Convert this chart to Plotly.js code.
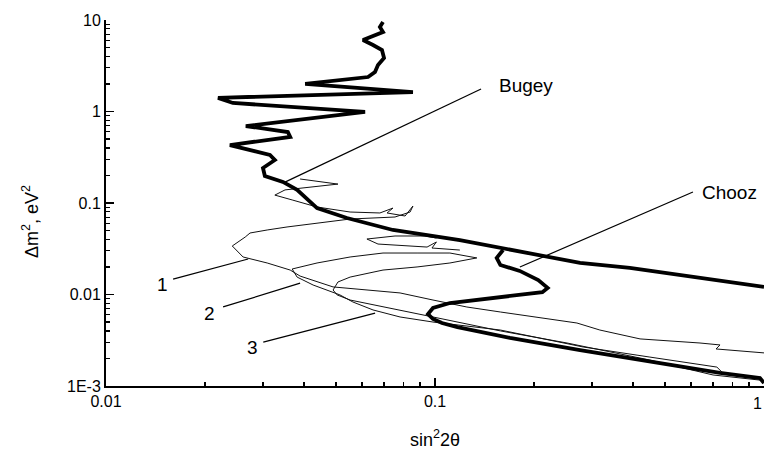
<!DOCTYPE html>
<html><head><meta charset="utf-8">
<script src="https://cdn.plot.ly/plotly-3.0.1.min.js"></script>
<style>html,body{margin:0;padding:0;background:#fff}#plot{width:765px;height:454px}</style>
</head><body><div id="plot"></div>
<script>
// Bugey limit (thick)
const bugeyX = [0.0695,0.068,0.0695,0.0604,0.0648,0.069,0.070,0.0671,0.0657,0.0626,0.0403,0.0857,0.0219,0.0243,0.0613,0.0266,0.0357,0.0363,0.0238,0.0261,0.0315,0.0326,0.030,0.0304,0.0345,0.0381,0.0423,0.0438,0.054,0.0745,0.119,0.158,0.276,0.391,0.556,0.788,1.0];
const bugeyY = [9.51,8.39,7.39,6.04,5.33,4.70,3.84,3.22,2.70,2.38,2.00,1.63,1.41,1.24,0.99,0.694,0.597,0.527,0.430,0.399,0.335,0.295,0.241,0.197,0.170,0.139,0.100,0.088,0.0686,0.0507,0.0394,0.0322,0.0221,0.0195,0.0163,0.0137,0.0121];
// Chooz limit (thick)
const choozX = [0.161,0.154,0.158,0.181,0.206,0.220,0.212,0.111,0.0986,0.0952,0.0986,0.105,0.117,0.169,0.276,0.391,0.556,0.735,0.972,1.0];
const choozY = [0.0306,0.0251,0.021,0.0181,0.0144,0.0118,0.0106,0.00807,0.00712,0.00612,0.0054,0.00488,0.00441,0.00335,0.00247,0.00202,0.00161,0.00139,0.00122,0.00108];
// thin contours 1, 2, 3
const c1X = [0.0389,0.0507,0.035,0.0326,0.0368,0.0438,0.0552,0.068,0.0745,0.0715,0.0811,0.0857,0.084,0.0756,0.0552,0.0438,0.0355,0.0309,0.0274,0.0265,0.0242,0.0261,0.0309,0.0363,0.0389,0.049,0.0783,0.0986,0.125,0.158,0.199,0.270,0.317,0.420,0.639,0.735,0.715,1.0];
const c1Y = [0.183,0.161,0.139,0.122,0.108,0.0904,0.0797,0.0778,0.088,0.0778,0.0721,0.0927,0.0797,0.0703,0.0668,0.0605,0.0547,0.0507,0.047,0.0425,0.0339,0.0257,0.0221,0.0185,0.0159,0.0121,0.0104,0.0087,0.0073,0.00644,0.00568,0.00488,0.00409,0.00327,0.00295,0.00281,0.00254,0.0023];
const c2X = [0.134,0.111,0.0882,0.0695,0.0552,0.0438,0.0368,0.0381,0.0426,0.0514,0.0563,0.0648,0.0783,0.0986,0.158,0.282,0.45,0.719,0.745];
const c2Y = [0.0251,0.0284,0.0284,0.0284,0.0257,0.0221,0.019,0.0155,0.0127,0.0099,0.00828,0.00678,0.00568,0.005,0.00409,0.00267,0.00207,0.00161,0.00142];
const c3X = [0.134,0.111,0.0882,0.0695,0.0552,0.0507,0.049,0.0504,0.0552,0.0695,0.0986,0.158,0.252,0.45,0.70,0.972];
const c3Y = [0.0251,0.0221,0.020,0.0185,0.0155,0.0137,0.0112,0.0099,0.0087,0.0073,0.00568,0.0040,0.00295,0.00192,0.00132,0.00116];
// small zig-zag loop of contour 2 near 0.08
const c4X = [0.101,0.0932,0.0756,0.0621,0.0671,0.0783,0.0946,0.101,0.0979,0.119];
const c4Y = [0.0414,0.0436,0.0436,0.0404,0.0356,0.0347,0.033,0.0375,0.0322,0.0306];

const majorVals = [0.001,0.01,0.1,1,10];
const yTickText = ['1E-3','0.01','0.1','1','10'];
const xTickVals = [0.01,0.1,1];
const xTickText = ['0.01','0.1','1'];

function minors(lo, hi){ const out=[]; for(let e=lo;e<hi;e++){ for(let d=2;d<=9;d++) out.push(d*Math.pow(10,e)); } return out; }

const thick = {color:'#000', width:3.8};
const thin = {color:'#111', width:1};
const traces = [
  {x:c1X,y:c1Y,mode:'lines',line:thin},
  {x:c2X,y:c2Y,mode:'lines',line:thin},
  {x:c3X,y:c3Y,mode:'lines',line:thin},
  {x:c4X,y:c4Y,mode:'lines',line:thin},
  {x:bugeyX,y:bugeyY,mode:'lines',line:thick},
  {x:choozX,y:choozY,mode:'lines',line:thick}
];
const font = {family:'"Liberation Sans", Arial, sans-serif', color:'#000'};
const lineShape = (x0,y0,x1,y1)=>({type:'line',xref:'paper',yref:'paper',x0,y0,x1,y1,line:{color:'#000',width:1.2}});
const label = (t,x,y,xa)=>({text:t,xref:'paper',yref:'paper',x,y,xanchor:xa||'center',yanchor:'middle',showarrow:false,font:Object.assign({size:19},font)});
const layout = {
  width:765,height:454,
  margin:{l:106,r:1,t:20,b:68},
  paper_bgcolor:'#fff',plot_bgcolor:'#fff',
  showlegend:false,
  font:Object.assign({size:16},font),
  xaxis:{type:'log',range:[-2,0],showgrid:false,zeroline:false,showline:true,linecolor:'#000',linewidth:2,
    ticks:'inside',ticklen:8,tickwidth:1.5,tickcolor:'#000',tickmode:'array',tickvals:xTickVals,ticktext:xTickText,
    tickfont:Object.assign({size:16},font),
    minor:{tickmode:'array',tickvals:minors(-2,0),ticks:'inside',ticklen:4,tickwidth:1.2,tickcolor:'#000',showgrid:false},
    title:{text:'sin<sup>2</sup>2θ',font:Object.assign({size:18},font),standoff:24}},
  yaxis:{type:'log',range:[-3,1],showgrid:false,zeroline:false,showline:true,linecolor:'#000',linewidth:2,
    ticks:'inside',ticklen:8,tickwidth:1.5,tickcolor:'#000',tickmode:'array',tickvals:majorVals,ticktext:yTickText,
    tickfont:Object.assign({size:16},font),
    minor:{tickmode:'array',tickvals:minors(-3,1),ticks:'inside',ticklen:4,tickwidth:1.2,tickcolor:'#000',showgrid:false},
    title:{text:''}},
  shapes:[
    lineShape(0.570,0.8115,0.272,0.557),
    lineShape(0.892,0.530,0.629,0.325),
    lineShape(0.102,0.292,0.216,0.347),
    lineShape(0.178,0.216,0.295,0.281),
    lineShape(0.239,0.120,0.409,0.199)
  ],
  annotations:[
    label('Bugey',0.594,0.822,'left'),
    label('Chooz',0.903,0.530,'left'),
    label('1',0.0866,0.276),
    label('2',0.158,0.199),
    label('3',0.223,0.104),
    {text:'Δm<sup>2</sup>, eV<sup>2</sup>',xref:'paper',yref:'paper',x:-0.1155,y:0.448,xanchor:'center',yanchor:'middle',textangle:-90,showarrow:false,font:Object.assign({size:18},font)},
    {text:'1',xref:'paper',yref:'paper',x:1,y:0,xanchor:'right',yanchor:'top',yshift:-7,showarrow:false,font:Object.assign({size:16},font)}
  ]
};
Plotly.newPlot('plot',traces,layout,{staticPlot:true});
</script></body></html>
